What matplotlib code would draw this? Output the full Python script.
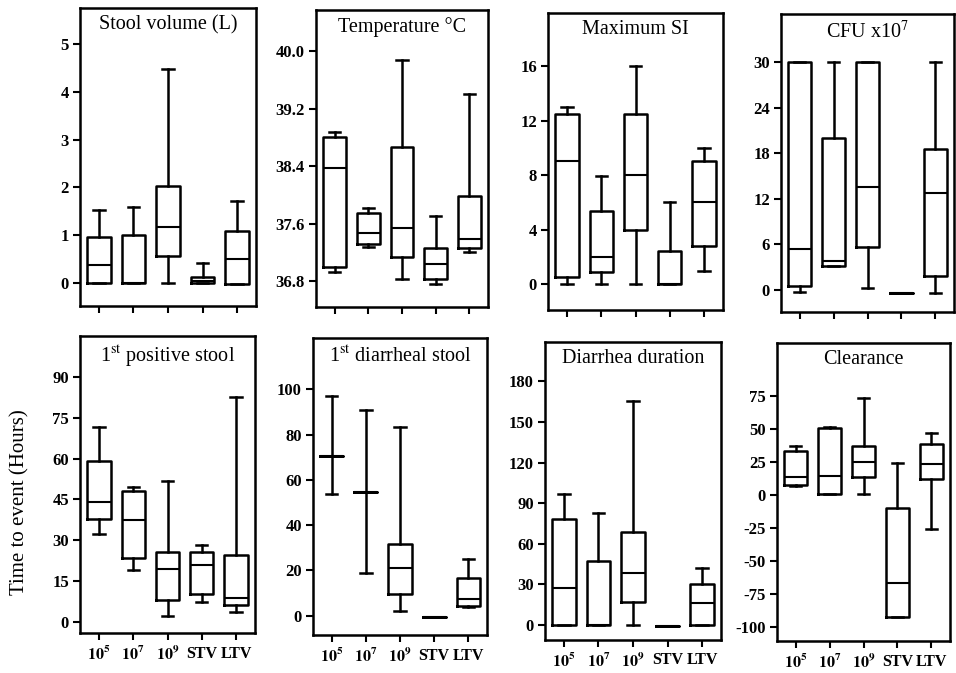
import matplotlib
matplotlib.use("Agg")
import matplotlib.pyplot as plt

plt.rcParams['font.family'] = ['Liberation Serif', 'DejaVu Serif']
plt.rcParams['mathtext.fontset'] = 'stix'
plt.rcParams['axes.unicode_minus'] = False

groups = [r'$\mathbf{10^5}$', r'$\mathbf{10^7}$', r'$\mathbf{10^9}$', 'STV', 'LTV']

# each box: (whisker low, q1, median, q3, whisker high)
stool_volume = [(0, 0, 0.38, 0.97, 1.52), (0, 0, 0, 1.0, 1.6), (0, 0.57, 1.18, 2.03, 4.47),
                (0, 0, 0.05, 0.12, 0.42), (-0.02, -0.02, 0.5, 1.08, 1.72)]
temperature = [(36.93, 37.0, 38.37, 38.8, 38.87), (37.27, 37.31, 37.47, 37.75, 37.82),
               (36.83, 37.13, 37.54, 38.66, 39.87), (36.76, 36.83, 37.04, 37.26, 37.7),
               (37.2, 37.26, 37.38, 37.98, 39.4)]
max_si = [(0, 0.5, 9.0, 12.5, 13.0), (0, 0.9, 2.0, 5.4, 7.9), (0, 4.0, 8.0, 12.5, 16.0),
          (0, 0, 0, 2.45, 6.0), (0.97, 2.8, 6.0, 9.0, 10.0)]
cfu = [(-0.3, 0.5, 5.4, 30, 30), (3.2, 3.2, 3.8, 20.0, 30), (0.25, 5.6, 13.6, 30, 30),
       (-0.4, -0.4, -0.4, -0.4, -0.4), (-0.4, 1.8, 12.7, 18.6, 30)]
first_positive = [(32.4, 37.9, 43.9, 58.9, 71.6), (19.1, 23.6, 37.5, 47.9, 49.7),
                  (2.2, 8.2, 19.5, 25.5, 51.6), (7.2, 10.1, 20.7, 25.5, 28.3),
                  (3.6, 6.3, 8.9, 24.5, 82.6)]
first_diarrheal = [(53.6, 70.7, 70.7, 70.7, 96.8), (19.0, 54.5, 54.5, 54.5, 90.9),
                   (2.1, 9.4, 20.9, 31.7, 83.5), (-0.4, -0.4, -0.4, -0.4, -0.4),
                   (3.7, 4.4, 7.2, 16.8, 25.0)]
diarrhea_duration = [(0, 0, 27.5, 78.2, 96.6), (0, 0, 0, 47.5, 83.1), (0, 17.2, 38.1, 68.8, 165.5),
                     (-0.7, -0.7, -0.7, -0.7, -0.7), (0, 0, 16.5, 30.0, 41.8)]
clearance = [(7.0, 8.0, 13.8, 33.5, 37.1), (0.7, 0.7, 14.8, 51.0, 51.8), (0.7, 13.8, 25.0, 37.1, 73.7),
             (-92.4, -92.4, -66.6, -9.5, 24.4), (-25.9, 12.5, 23.4, 38.6, 47.4)]

panels = [
    ('Stool volume (L)', stool_volume, (-0.48, 5.75), [0, 1, 2, 3, 4, 5], None),
    ('Temperature °C', temperature, (36.44, 40.57), [36.8, 37.6, 38.4, 39.2, 40.0], '%.1f'),
    ('Maximum SI', max_si, (-1.9, 19.9), [0, 4, 8, 12, 16], None),
    (r'CFU x10$^7$', cfu, (-2.9, 36.3), [0, 6, 12, 18, 24, 30], None),
    (r'1$^{\mathrm{st}}$ positive stool', first_positive, (-4.1, 105), [0, 15, 30, 45, 60, 75, 90], None),
    (r'1$^{\mathrm{st}}$ diarrheal stool', first_diarrheal, (-8.5, 122.6), [0, 20, 40, 60, 80, 100], None),
    ('Diarrhea duration', diarrhea_duration, (-11, 209), [0, 30, 60, 90, 120, 150, 180], None),
    ('Clearance', clearance, (-110.6, 115.5), [-100, -75, -50, -25, 0, 25, 50, 75], None),
]

# axes boxes in pixels: left, top, right, bottom
boxes = [(80, 8, 256, 306), (316, 10, 488, 307), (548, 13, 723, 310), (781, 14, 954, 312),
         (80, 336, 255, 633), (313, 338, 487, 635), (545, 342, 721, 640), (777, 343, 950, 641)]

W, H = 956, 673
fig = plt.figure(figsize=(W / 100, H / 100), dpi=100)

for i, ((title, data, ylim, yticks, fmt), (l, t, r, b)) in enumerate(zip(panels, boxes)):
    ax = fig.add_axes([l / W, 1 - b / H, (r - l) / W, (b - t) / H])
    stats = [dict(whislo=d[0], q1=d[1], med=d[2], q3=d[3], whishi=d[4], fliers=[]) for d in data]
    lw = 1.8
    ax.bxp(stats, positions=range(1, 6), widths=0.68, capwidths=0.33, showfliers=False,
           boxprops=dict(color='black', lw=lw), whiskerprops=dict(color='black', lw=lw),
           capprops=dict(color='black', lw=lw), medianprops=dict(color='black', lw=1.5))
    ax.set_xlim(0.45, 5.55)
    ax.set_ylim(*ylim)
    ax.set_yticks(yticks)
    if fmt:
        ax.set_yticklabels([fmt % v for v in yticks])
    ax.set_xticks(range(1, 6))
    if i >= 4:
        ax.set_xticklabels(groups, fontsize=11.5, fontweight='bold')
    else:
        ax.set_xticklabels([])
    for s in ax.spines.values():
        s.set_linewidth(1.8)
    ax.tick_params(axis='y', direction='out', length=5, width=1.5, labelsize=12, pad=3)
    ax.tick_params(axis='x', direction='out', length=5, width=1.5, pad=4)
    for lab in ax.get_yticklabels():
        lab.set_fontweight('bold')
    ax.text(0.5, 0.975, title, transform=ax.transAxes, ha='center', va='top', fontsize=14.5)

fig.text(20 / W, 1 - 502 / H, 'Time to event (Hours)', rotation=90, ha='center', va='center',
         fontsize=15)

fig.savefig('out.png', dpi=100)
